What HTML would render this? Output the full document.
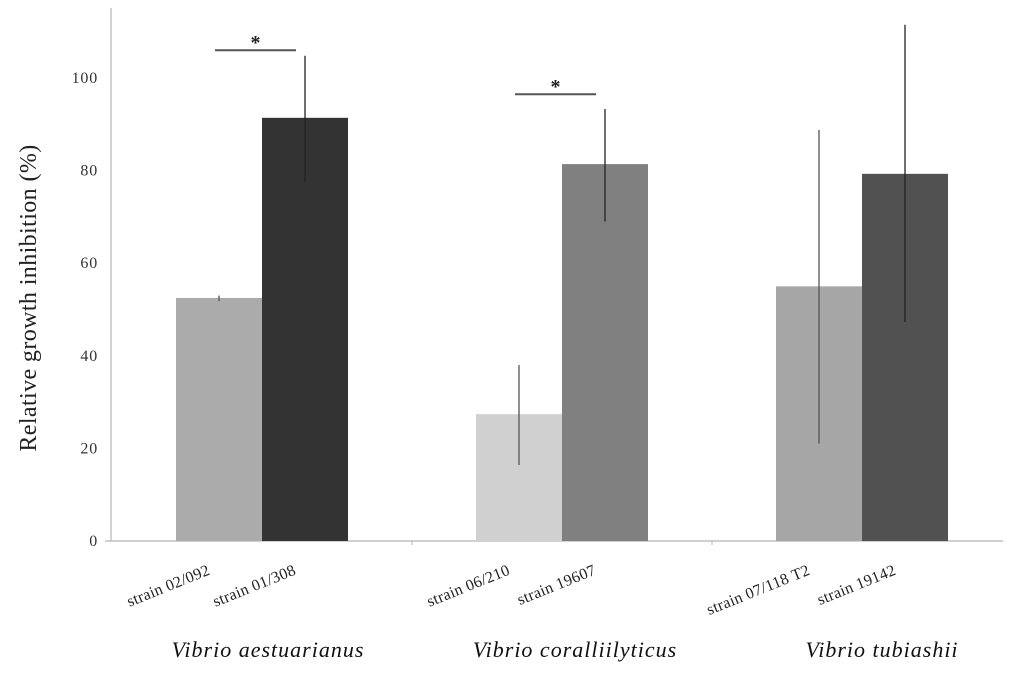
<!DOCTYPE html>
<html><head><meta charset="utf-8"><style>
html,body{margin:0;padding:0;background:#fff;}
svg{display:block;}
</style></head><body>
<svg id="chart" width="1024" height="677" viewBox="0 0 1024 677" xmlns="http://www.w3.org/2000/svg" font-family="'Liberation Serif', serif">
<g id="axes"></g>
<g id="bars"></g>
<g id="labels"></g>
<text transform="translate(36,298) rotate(-90)" text-anchor="middle" font-size="24" letter-spacing="0.4" fill="#222">Relative growth inhibition (%)</text>
</svg>
<script>
const categories = ["strain 02/092","strain 01/308","strain 06/210","strain 19607","strain 07/118 T2","strain 19142"];
const values = [52.5, 91.4, 27.4, 81.4, 55, 79.3];
const errHigh = [53, 104.8, 38, 93.3, 88.8, 111.5];
const errLow = [51.8, 77.6, 16.4, 69, 21, 47.3];
const colors = ["#ababab","#333333","#d0d0d0","#808080","#a6a6a6","#515151"];
const groups = ["Vibrio aestuarianus","Vibrio coralliilyticus","Vibrio tubiashii"];
const yTicks = [0,20,40,60,80,100];
const sigPairs = [[0,1],[2,3]];
const sigLevel = [106, 96.5];

const NS="http://www.w3.org/2000/svg";
const y0=541, pxPer=4.63;
function y(v){return y0 - v*pxPer;}
const barW=86;
function xBar(i){const g=Math.floor(i/2), k=i%2; return 176 + g*300 + k*barW;}
function mk(tag,attrs,parent){const e=document.createElementNS(NS,tag);for(const k in attrs)e.setAttribute(k,attrs[k]);parent.appendChild(e);return e;}
const axes=document.getElementById('axes'), bars=document.getElementById('bars'), labels=document.getElementById('labels');

let yl=mk('line',{x1:111,y1:8,x2:111,y2:y0,stroke:'#b5b5b5','stroke-width':1.2},axes);


let xl=mk('line',{x1:105,y1:y0,x2:1003,y2:y0,stroke:'#b5b5b5','stroke-width':1.2},axes);


[412,712].forEach(function(x){const t=mk('line',{x1:x,y1:y0,x2:x,y2:y0+4,stroke:'#b5b5b5'},axes);

});
yTicks.forEach(function(v){
  const t=mk('text',{x:98,y:y(v)+5,'text-anchor':'end','font-size':16,'letter-spacing':0.8,fill:'#333'},axes);
  t.textContent=v;
  
  
});
values.forEach(function(v,i){
  const r=mk('rect',{x:xBar(i),y:y(v),width:barW,height:y0-y(v),fill:colors[i]},bars);
  
  
  const cx=xBar(i)+barW/2;
  const e=mk('line',{x1:cx,y1:y(errHigh[i]),x2:cx,y2:y(errLow[i]),stroke:i%2?'#222':'#555','stroke-width':1.3},bars);
  
  
  const cxl=xBar(i)+barW/2-8, cyl=y0+33;
  const t=mk('text',{x:cxl,y:cyl,'text-anchor':'end','font-size':16,'letter-spacing':0.3,fill:'#222',transform:'rotate(-22 '+cxl+' '+cyl+')'},labels);
  t.textContent=categories[i];
  
  
});
sigPairs.forEach(function(p,j){
  const x1=xBar(p[0])+barW/2-4, x2=xBar(p[1])+barW/2-9;
  const l=mk('line',{x1:x1,y1:y(sigLevel[j]),x2:x2,y2:y(sigLevel[j]),stroke:'#555','stroke-width':2},bars);
  
  
  const s=mk('text',{x:(x1+x2)/2,y:y(sigLevel[j])-1,'text-anchor':'middle','font-size':20,'font-weight':'bold',fill:'#222'},bars);
  s.textContent='*';
  
  
});
groups.forEach(function(g,i){
  const t=mk('text',{x:268+i*307,y:657,'text-anchor':'middle','font-size':22,'letter-spacing':1,'font-style':'italic',fill:'#111'},labels);
  t.textContent=g;
  
  
});
</script>
</body></html>
